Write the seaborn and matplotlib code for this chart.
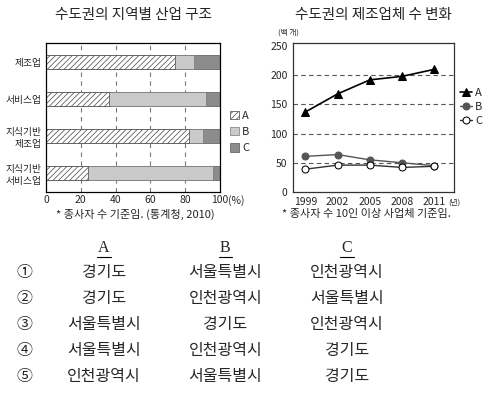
import matplotlib
matplotlib.use("Agg")
import matplotlib.pyplot as plt
import seaborn as sns
from matplotlib.patches import Patch
from matplotlib.lines import Line2D

# --- data ---
industries = ["제조업", "서비스업", "지식기반\n제조업", "지식기반\n서비스업"]
share_a = [74, 36, 82, 24]
share_b = [11, 56, 8, 72]
share_c = [15, 8, 10, 4]

years = [1999, 2002, 2005, 2008, 2011]
firms_a = [137, 168, 192, 198, 210]
firms_b = [61, 64, 55, 50, 45]
firms_c = [39, 46, 46, 42, 44]

choices = [
    ("①", "경기도", "서울특별시", "인천광역시"),
    ("②", "경기도", "인천광역시", "서울특별시"),
    ("③", "서울특별시", "경기도", "인천광역시"),
    ("④", "서울특별시", "인천광역시", "경기도"),
    ("⑤", "인천광역시", "서울특별시", "경기도"),
]

sns.set_style("white")
plt.rcParams["font.family"] = ["Noto Sans CJK KR", "DejaVu Sans"]
plt.rcParams["hatch.linewidth"] = 0.5

fig = plt.figure(figsize=(4.9, 3.95), dpi=100)

# --- 1. stacked bar chart ---
ax1 = fig.add_axes([0.094, 0.514, 0.355, 0.377])
tot_c = [a + b + c for a, b, c in zip(share_a, share_b, share_c)]
tot_b = [a + b for a, b in zip(share_a, share_b)]
sns.barplot(x=tot_c, y=industries, orient="h", color="#8c8c8c", width=0.38,
            edgecolor="#555555", linewidth=0.5, saturation=1, ax=ax1)
sns.barplot(x=tot_b, y=industries, orient="h", color="#cacaca", width=0.38,
            edgecolor="#777777", linewidth=0.5, saturation=1, ax=ax1)
sns.barplot(x=share_a, y=industries, orient="h", color="white", width=0.38,
            edgecolor="#444444", linewidth=0.5, hatch="//////", saturation=1, ax=ax1)
ax1.set_xlim(0, 100)
ax1.set_ylim(3.5, -0.5)
ax1.set_xticks([0, 20, 40, 60, 80, 100])
ax1.set_xticklabels(["0", "20", "40", "60", "80", "100"])
ax1.tick_params(axis="y", length=0, labelsize=7, pad=3)
ax1.tick_params(axis="x", length=0, labelsize=7.5, pad=2)
ax1.set_xlabel("")
ax1.set_ylabel("")
ax1.set_axisbelow(True)
for v in [20, 40, 60, 80]:
    ax1.axvline(v, color="#777777", lw=0.8, ls=(0, (4, 4)), zorder=0)
for s in ax1.spines.values():
    s.set_color("black")
    s.set_linewidth(0.9)
ax1.annotate("(%)", xy=(100, 0), xycoords=("data", "axes fraction"),
             xytext=(6, -6.2), textcoords="offset points", ha="left", va="center", fontsize=7.5)
ax1.set_title("수도권의 지역별 산업 구조", fontsize=10.5, pad=17)

bar_handles = [
    Patch(facecolor="white", edgecolor="#444444", hatch="//////", lw=0.5, label="A"),
    Patch(facecolor="#cacaca", edgecolor="#777777", lw=0.5, label="B"),
    Patch(facecolor="#8c8c8c", edgecolor="#555555", lw=0.5, label="C"),
]
fig.legend(handles=bar_handles, loc="center left", bbox_to_anchor=(0.458, 0.666),
           frameon=False, fontsize=8, handlelength=0.8, handleheight=0.8,
           handletextpad=0.3, labelspacing=0.55, borderpad=0)

# --- 2. line chart ---
ax2 = fig.add_axes([0.597, 0.514, 0.329, 0.377])
sns.lineplot(x=years, y=firms_a, marker="^", color="black", markersize=6,
             markeredgecolor="black", lw=1.2, label="A", ax=ax2)
sns.lineplot(x=years, y=firms_b, marker="o", color="#555555", markersize=5,
             markeredgecolor="#555555", lw=1.0, label="B", ax=ax2)
sns.lineplot(x=years, y=firms_c, marker="o", color="#333333", markersize=5,
             markerfacecolor="white", markeredgecolor="black", lw=1.0, label="C", ax=ax2)
ax2.set_xlim(1997.8, 2012.8)
ax2.set_ylim(0, 255)
ax2.set_xticks(years)
ax2.set_yticks([0, 50, 100, 150, 200, 250])
ax2.tick_params(axis="both", length=2, labelsize=7.5, pad=1.5)
for v in [50, 100, 150, 200]:
    ax2.axhline(v, color="#555555", lw=0.8, ls=(0, (4, 3)), zorder=0)
for s in ax2.spines.values():
    s.set_color("#333333")
    s.set_linewidth(0.9)
ax2.annotate("(년)", xy=(2011, 0), xycoords=("data", "axes fraction"),
             xytext=(10, -7.5), textcoords="offset points", ha="left", va="center", fontsize=5.5)
ax2.annotate("(백 개)", xy=(0, 1), xycoords="axes fraction",
             xytext=(-3, 5), textcoords="offset points", ha="center", va="bottom", fontsize=5.5)
ax2.set_title("수도권의 제조업체 수 변화", fontsize=10.5, pad=17)
ax2.legend(loc="center left", bbox_to_anchor=(1.005, 0.57), frameon=False, fontsize=8,
           handlelength=1.1, handletextpad=0.25, labelspacing=0.35, borderpad=0)

# --- footnotes ---
fig.text(0.114, 1 - 214 / 395, "* 종사자 수 기준임. (통계청, 2010)", fontsize=8, va="center")
fig.text(0.575, 1 - 214 / 395, "* 종사자 수 10인 이상 사업체 기준임.", fontsize=8, va="center")

# --- answer table ---
col_x = [0.051, 0.212, 0.460, 0.708]
head_y = 1 - 248 / 395
for x, h in zip(col_x[1:], ["A", "B", "C"]):
    fig.text(x, head_y, h, fontsize=11.5, ha="center", va="center", family="Liberation Serif")
    fig.add_artist(Line2D([x - 0.014, x + 0.014], [head_y - 0.022, head_y - 0.022],
                          color="black", lw=0.8, transform=fig.transFigure))
row_y = [273, 298, 324, 351, 377]
for y, row in zip(row_y, choices):
    for x, t in zip(col_x, row):
        fig.text(x, 1 - y / 395, t, fontsize=11.5, ha="center", va="center")

fig.savefig("out.png", dpi=100)
